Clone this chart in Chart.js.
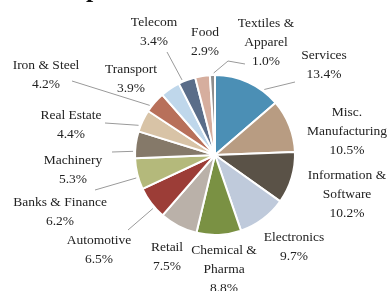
<!DOCTYPE html>
<html>
<head>
<meta charset="utf-8">
<script src="https://cdn.jsdelivr.net/npm/chart.js@4"></script>
<style>
  html, body { margin: 0; padding: 0; background: #ffffff; }
  #wrap { width: 390px; height: 291px; position: relative; overflow: hidden; }
</style>
</head>
<body>
<div id="wrap"><canvas id="c" width="390" height="291"></canvas></div>
<script>
// ---- data ----
const categories = ["Services", "Misc. Manufacturing", "Information & Software", "Electronics",
  "Chemical & Pharma", "Retail", "Automotive", "Banks & Finance", "Machinery", "Real Estate",
  "Iron & Steel", "Transport", "Telecom", "Food", "Textiles & Apparel"];
const shares = [13.4, 10.5, 10.2, 9.7, 8.8, 7.5, 6.5, 6.2, 5.3, 4.4, 4.2, 3.9, 3.4, 2.9, 1.0];
const labelLines = [["Services"], ["Misc.", "Manufacturing"], ["Information &", "Software"], ["Electronics"],
  ["Chemical &", "Pharma"], ["Retail"], ["Automotive"], ["Banks & Finance"], ["Machinery"], ["Real Estate"],
  ["Iron & Steel"], ["Transport"], ["Telecom"], ["Food"], ["Textiles &", "Apparel"]];
const titleText = "Sector Composition";

// ---- styling / layout ----
const colors = ["#4b8fb5", "#b89c82", "#5a5247", "#bfcadb", "#7a9143", "#bab1a9", "#9c3d37",
  "#b4b97b", "#857969", "#d8c3a6", "#b8705a", "#bfd7eb", "#5a6d89", "#d6ae9e", "#8e8e8e"];
// label text centre (x, first-line y) relative to the pie centre
const labelPos = [[109,-100],[132,-43],[132,20],[79,82],[9,95],[-48,92],[-116,85],[-155,47],
  [-142,5],[-144,-40],[-169,-90],[-84,-86],[-61,-133],[-10,-123],[51,-132]];
// leader line label-side end (relative to pie centre), null = no line; optional elbow
const leaderEnd = [[80,-73],null,null,null,null,null,[-87,75],[-120,35],[-103,-3],[-110,-32],
  [-143,-74],null,[-48,-103],null,[30,-91]];
const leaderElbow = [null,null,null,null,null,null,null,null,null,null,null,null,null,null,[13,-94]];

const FONT = '13.5px "Liberation Serif", "Times New Roman", serif';
const LINE_H = 19;

const labelPlugin = {
  id: 'pieLabels',
  afterDatasetsDraw(chart) {
    const ctx = chart.ctx;
    const meta = chart.getDatasetMeta(0);
    ctx.save();
    meta.data.forEach((arc, i) => {
      const cx = arc.x, cy = arc.y, R = arc.outerRadius;
      // leader line
      if (leaderEnd[i]) {
        const ex = cx + leaderEnd[i][0], ey = cy + leaderEnd[i][1];
        let a = Math.atan2(ey - cy, ex - cx);
        const s = arc.startAngle, e = arc.endAngle, span = e - s;
        // normalise a into [s, s+2pi)
        while (a < s) a += Math.PI * 2;
        while (a >= s + Math.PI * 2) a -= Math.PI * 2;
        const lo = s + span * 0.25, hi = e - span * 0.25;
        let aa;
        if (a >= lo && a <= hi) aa = a;
        else {
          const dLo = Math.min(Math.abs(a - lo), Math.abs(a - Math.PI * 2 - lo));
          const dHi = Math.min(Math.abs(a - hi), Math.abs(a - Math.PI * 2 - hi));
          aa = dLo < dHi ? lo : hi;
        }
        const px = cx + (R + 2) * Math.cos(aa), py = cy + (R + 2) * Math.sin(aa);
        ctx.strokeStyle = '#9a9a9a';
        ctx.lineWidth = 1;
        ctx.beginPath();
        ctx.moveTo(ex, ey);
        if (leaderElbow[i]) ctx.lineTo(cx + leaderElbow[i][0], cy + leaderElbow[i][1]);
        ctx.lineTo(px, py);
        ctx.stroke();
      }
      // label text
      const lines = labelLines[i].concat([shares[i].toFixed(1) + '%']);
      ctx.font = FONT;
      ctx.fillStyle = '#222222';
      ctx.textAlign = 'center';
      ctx.textBaseline = 'middle';
      const lx = cx + labelPos[i][0], ly = cy + labelPos[i][1];
      lines.forEach((t, k) => ctx.fillText(t, lx, ly + k * LINE_H));
    });
    // clipped title (only its descender shows at the top edge)
    ctx.font = 'bold 26px "Liberation Serif", "Times New Roman", serif';
    ctx.fillStyle = '#111111';
    ctx.textAlign = 'left';
    ctx.textBaseline = 'alphabetic';
    const pre = titleText.slice(0, titleText.indexOf('p'));
    const tx = 86 - ctx.measureText(pre).width;
    ctx.fillText(titleText, tx, -3);
    ctx.restore();
  }
};

new Chart(document.getElementById('c'), {
  type: 'pie',
  data: {
    labels: categories,
    datasets: [{
      data: shares,
      backgroundColor: colors,
      borderColor: '#ffffff',
      borderWidth: 2
    }]
  },
  options: {
    responsive: false,
    animation: false,
    events: [],
    layout: { padding: { left: 134, right: 94, top: 74, bottom: 55 } },
    plugins: {
      legend: { display: false },
      tooltip: { enabled: false },
      title: { display: false }
    }
  },
  plugins: [labelPlugin]
});
</script>
</body>
</html>
